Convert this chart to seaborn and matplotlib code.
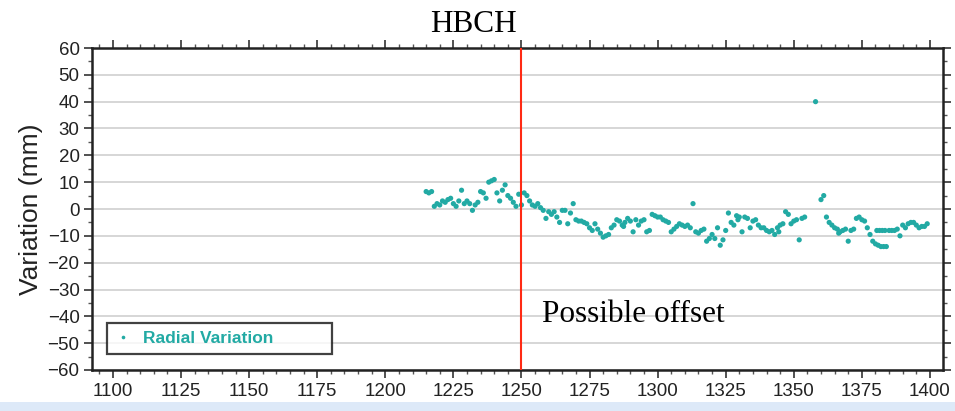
import numpy as np
import pandas as pd
import matplotlib
matplotlib.use("Agg")
import matplotlib.pyplot as plt
import seaborn as sns
from matplotlib.ticker import MultipleLocator
from matplotlib.patches import Rectangle

# ---- data ----
days = [1215, 1216, 1217, 1218, 1219, 1220, 1221, 1222, 1223, 1224,
        1225, 1226, 1227, 1228, 1229, 1230, 1231, 1232, 1233, 1234,
        1235, 1236, 1237, 1238, 1239, 1240, 1241, 1242, 1243, 1244,
        1245, 1246, 1247, 1248, 1249,
        1250, 1251, 1252, 1253, 1254, 1255, 1256, 1257, 1258, 1259,
        1260, 1261, 1262, 1263, 1264, 1265, 1266, 1267, 1268, 1269,
        1270, 1271, 1272, 1273, 1274, 1275, 1276, 1277, 1278, 1279,
        1280, 1281, 1282, 1283, 1284, 1285, 1286, 1287, 1288, 1289,
        1290, 1291, 1292, 1293, 1294, 1295, 1296, 1297, 1298, 1299,
        1300, 1301, 1302, 1303, 1304, 1305, 1306, 1307, 1308, 1309,
        1310, 1311, 1312, 1313, 1314, 1315, 1316, 1317, 1318, 1319,
        1320, 1321, 1322, 1323, 1324, 1325, 1326, 1327, 1328, 1329,
        1330, 1331, 1332, 1333, 1334, 1335, 1336, 1337, 1338, 1339,
        1340, 1341, 1342, 1343, 1344, 1345, 1346, 1347, 1348, 1349,
        1350, 1351, 1352, 1353, 1354, 1358, 1360, 1361, 1362, 1363,
        1364, 1365, 1366, 1367, 1368, 1369, 1370, 1371, 1372, 1373,
        1374, 1375, 1376, 1377, 1378, 1379, 1380, 1381, 1382, 1383,
        1384, 1385, 1386, 1387, 1388, 1389, 1390, 1391, 1392, 1393,
        1394, 1395, 1396, 1397, 1398, 1399,
        1380.5, 1381.5, 1382.5, 1383.5, 1366.5, 1344.5, 1329.5, 1287.5]
variation = [6.5, 6, 6.5, 1, 2, 1.5, 3, 2.5, 3.5, 4,
             2, 1, 3, 7, 2, 3, 2, -0.5, 1.5, 2.5,
             6.5, 6, 4, 10, 10.5, 11, 6, 3, 7, 9,
             5, 4, 2.5, 1, 5.5,
             1.5, 6, 5, 3, 1.5, 1, 2, 0.5, -0.5, -3.5,
             -1, -2, -1, -3, -5, -0.5, -0.5, -5.5, -1.5, 2,
             -4, -4.5, -4.5, -5, -5.5, -7, -8, -5.5, -7.5, -9,
             -10.5, -10, -9.5, -7, -6, -4, -4.5, -6, -5, -3.5,
             -4.5, -8.5, -4, -6, -4.5, -4, -8.5, -8, -2, -2.5,
             -3, -3, -4, -4.5, -5, -8.5, -7.5, -6.5, -5.5, -6,
             -6.5, -6, -7, 2, -8.5, -9, -8, -7.5, -12, -11,
             -9.5, -11, -7, -13.5, -11.5, -8, -1.5, -5, -6, -2.5,
             -3, -8.5, -3, -3.5, -7, -4.5, -4, -6, -7, -7,
             -8, -8.5, -8, -9.5, -7, -6, -5.5, -1, -2, -5.5,
             -4.5, -4, -11.5, -3.5, -3, 40, 3.5, 5, -3, -5,
             -6, -7, -7.5, -8.5, -8, -7.5, -12, -8, -7.5, -3.5,
             -3, -4, -4.5, -7, -9.5, -12, -13, -13.5, -14, -14,
             -14, -8, -8, -8, -7.5, -10, -6, -7, -5.5, -5,
             -5, -6, -7, -6.5, -6.5, -5.5,
             -8, -8, -8, -8, -9, -8.5, -4, -6.5]
series_label = "Radial Variation"
offset_day = 1250
title = "HBCH"
annotation = "Possible offset"
x_ticks = [1100, 1125, 1150, 1175, 1200, 1225, 1250, 1275, 1300, 1325, 1350, 1375, 1400]
y_ticks = [60, 50, 40, 30, 20, 10, 0, -10, -20, -30, -40, -50, -60]

df = pd.DataFrame({"day": days, "variation": variation,
                   "series": [series_label] * len(days)})

sns.set_theme(style="white")
plt.rcParams["font.family"] = ["Liberation Sans", "DejaVu Sans"]

teal = "#22aaa4"
fig = plt.figure(figsize=(9.55, 4.11), dpi=100)
fig.patch.set_facecolor("white")
ax = fig.add_axes([92 / 955, 1 - 370 / 411, (943 - 92) / 955, (370 - 48) / 411])

sns.scatterplot(data=df, x="day", y="variation", hue="series",
                palette=[teal], s=14, linewidth=0, ax=ax, zorder=3)

ax.set_xlim(1092.3, 1404.8)
ax.set_ylim(-60, 60)
ax.set_xticks(x_ticks)
ax.set_yticks(y_ticks)
ax.xaxis.set_minor_locator(MultipleLocator(5))
ax.yaxis.set_minor_locator(MultipleLocator(5))
ax.tick_params(which="major", direction="out", length=6, width=1.2, color="#333333",
               top=True, right=True, bottom=True, left=True, labelsize=13.5,
               labelcolor="#222222", pad=3)
ax.tick_params(which="minor", direction="out", length=3, width=1, color="#555555",
               top=True, right=True, bottom=True, left=True)
for sp in ax.spines.values():
    sp.set_linewidth(1.8)
    sp.set_color("#222222")
ax.yaxis.grid(True, color="#cfcfcf", linewidth=1.2)
ax.xaxis.grid(False)
ax.set_axisbelow(True)
ax.set_xlabel("")
ax.set_ylabel("Variation (mm)", fontsize=19, color="#222222", labelpad=3)

ax.axvline(offset_day, color="#ff2a14", linewidth=1.5, zorder=4)

leg = ax.legend(loc="lower left", bbox_to_anchor=(0.0176, 0.05, 0.264, 0.1),
                mode="expand", frameon=True, fancybox=False, edgecolor="#111111",
                handlelength=1.0, handletextpad=0.6, borderpad=0.45,
                borderaxespad=0, markerscale=0.7,
                prop={"weight": "bold", "size": 12.5})
leg.get_frame().set_linewidth(1.6)
for t in leg.get_texts():
    t.set_color(teal)
    t.set_fontweight("bold")
leg.set_title(None)

fig.text(473 / 955, 1 - 25 / 411, title, ha="center", va="center",
         fontsize=22.5, family=["Liberation Serif", "DejaVu Serif"], color="black")
ax.text(1257.5, -39.5, annotation, ha="left", va="center",
        fontsize=22.5, family=["Liberation Serif", "DejaVu Serif"], color="black", zorder=5)

# light blue strip at the bottom of the screenshot
fig.patches.append(Rectangle((0, 0), 1, 9 / 411, transform=fig.transFigure,
                             facecolor="#dde9f8", edgecolor="none", zorder=0))

fig.savefig("out.png", dpi=100)
